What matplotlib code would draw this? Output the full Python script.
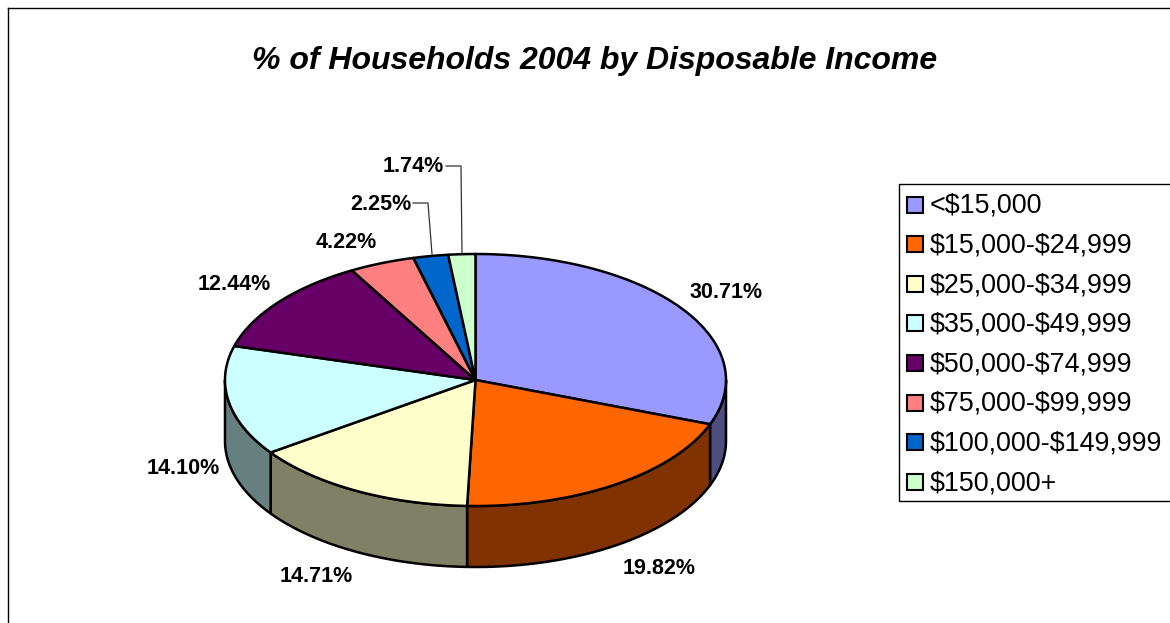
import numpy as np
import matplotlib
matplotlib.use('Agg')
import matplotlib.pyplot as plt
from matplotlib.patches import Polygon, Rectangle

plt.rcParams['font.family'] = ['Liberation Sans', 'DejaVu Sans']

title = '% of Households 2004 by Disposable Income'
labels = ['<$15,000', '$15,000-$24,999', '$25,000-$34,999', '$35,000-$49,999',
          '$50,000-$74,999', '$75,000-$99,999', '$100,000-$149,999', '$150,000+']
values = [30.71, 19.82, 14.71, 14.10, 12.44, 4.22, 2.25, 1.74]
colors = ['#9999FF', '#FF6600', '#FFFFCC', '#CCFFFF', '#660066', '#FF8080', '#0066CC', '#CCFFCC']
side_colors = ['#4D4D80', '#803300', '#808066', '#668080', '#330033', '#804040', '#003366', '#668066']
# label positions in pixels
label_pos = [(726, 292), (659, 568), (316, 576), (183, 469), (234, 285), (346, 242), (381, 204), (413, 167)]

W, H = 1170, 623
cx, cy, rx, ry, depth = 475.5, 380, 250.5, 126, 61

fig = plt.figure(figsize=(W / 100, H / 100), dpi=100)
ax = fig.add_axes([0, 0, 1, 1])
ax.set_xlim(0, W)
ax.set_ylim(H, 0)
ax.axis('off')

# chart frame, runs off the right and bottom edge
ax.plot([7.5, 7.5], [H, 7.5], color='black', lw=1, zorder=1)
ax.plot([7.5, W], [7.5, 7.5], color='black', lw=1, zorder=1)

ax.text(595, 60.5, title, fontsize=23.05, fontweight='bold', style='italic', ha='center', va='center')

# slices go clockwise from twelve o'clock
edges = np.concatenate([[0], np.cumsum(values)]) / sum(values) * 2 * np.pi


def rim(a0, a1):
    a = np.linspace(a0, a1, 120)
    return cx + rx * np.sin(a), cy - ry * np.cos(a)


# side wall, only the front half is seen
for i in range(len(values)):
    a0, a1 = max(edges[i], np.pi / 2), min(edges[i + 1], 3 * np.pi / 2)
    if a1 <= a0:
        continue
    x, y = rim(a0, a1)
    pts = np.r_[np.c_[x, y], np.c_[x[::-1], y[::-1] + depth]]
    ax.add_patch(Polygon(pts, fc=side_colors[i], ec='black', lw=1.8, joinstyle='round', zorder=2))

# top face
for i in range(len(values)):
    x, y = rim(edges[i], edges[i + 1])
    pts = np.r_[[[cx, cy]], np.c_[x, y]]
    ax.add_patch(Polygon(pts, fc=colors[i], ec='black', lw=1.8, joinstyle='round', zorder=3))

for v, (lx, ly) in zip(values, label_pos):
    ax.text(lx, ly, f'{v:.2f}%', fontsize=15.5, fontweight='bold', ha='center', va='center', zorder=5)

# leader lines for the small slices
ax.plot([413, 428, 432], [203, 203, 254], color='#333333', lw=0.9, zorder=4)
ax.plot([446, 461, 462], [166, 166, 254], color='#333333', lw=0.9, zorder=4)

# legend
ax.add_patch(Rectangle((898.5, 184), 290, 316.5, fc='white', ec='black', lw=1, zorder=2))
for i, name in enumerate(labels):
    y = 204.5 + i * 39.6
    ax.add_patch(Rectangle((907, y - 8), 16, 16, fc=colors[i], ec='black', lw=1.5, zorder=3))
    ax.text(930, y + 1.5, name, fontsize=19.4, ha='left', va='center', zorder=3, parse_math=False)

fig.savefig('out.png', dpi=100)
